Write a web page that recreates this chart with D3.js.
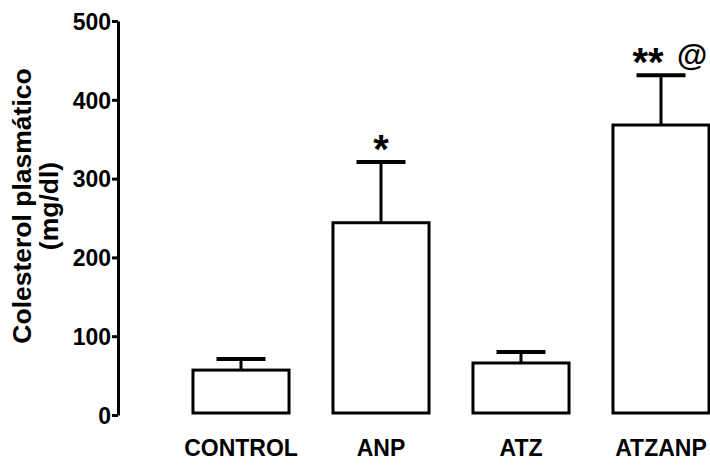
<!DOCTYPE html>
<html>
<head>
<meta charset="utf-8">
<script src="https://cdn.jsdelivr.net/npm/d3@7"></script>
<style>
  html, body { margin: 0; padding: 0; background: #fff; }
  svg { display: block; }
  text { font-family: "Liberation Sans", Arial, Helvetica, sans-serif; font-weight: bold; fill: #000; }
</style>
</head>
<body>
<svg id="chart" width="710" height="469"></svg>
<script>
// Plasma cholesterol by treatment group (mean and SEM, mg/dl)
const categories = ["CONTROL", "ANP", "ATZ", "ATZANP"];
const means = [57, 244, 66, 368];
const sems = [14, 77, 14, 63];
const stars = ["", "*", "", "**"];
const symbols = ["", "", "", "@"];
const yTicks = [0, 100, 200, 300, 400, 500];

const svg = d3.select("#chart");

const y = d3.scaleLinear().domain([0, 500]).range([415, 21]);
const x = d3.scaleBand()
  .domain(categories)
  .range([171, 731])
  .paddingInner(0.314)
  .paddingOuter(0.157);
const cx = c => x(c) + x.bandwidth() / 2;

// Y axis
const yAxis = svg.append("g")
  .attr("transform", "translate(118,0)")
  .call(d3.axisLeft(y).tickValues(yTicks).tickSize(6).tickSizeOuter(0).tickPadding(1));
yAxis.select(".domain").attr("stroke", "#000").attr("stroke-width", 3);
yAxis.selectAll(".tick line").attr("stroke", "#000").attr("stroke-width", 3);
yAxis.selectAll(".tick text")
  .attr("font-family", "Liberation Sans, Arial, sans-serif")
  .attr("font-weight", "bold")
  .attr("font-size", 23)
  .attr("dy", "0.36em")
  .attr("fill", "#000");

// Y axis title
const title = svg.append("g").attr("transform", "translate(0,206) rotate(-90)");
title.append("text")
  .attr("x", 0).attr("y", 31)
  .attr("text-anchor", "middle")
  .attr("font-size", 26.5)
  .text("Colesterol plasmático");
title.append("text")
  .attr("x", 0).attr("y", 58)
  .attr("text-anchor", "middle")
  .attr("font-size", 26.5)
  .text("(mg/dl)");

const groups = categories.map((c, i) => ({
  cat: c, mean: means[i], sem: sems[i], star: stars[i], sym: symbols[i]
}));

// Error bars (upper only)
const capHalf = 24.5;
const eb = svg.append("g");
eb.selectAll("line.stem").data(groups).join("line")
  .attr("class", "stem")
  .attr("x1", d => cx(d.cat))
  .attr("x2", d => cx(d.cat))
  .attr("y1", d => y(d.mean))
  .attr("y2", d => y(d.mean + d.sem))
  .attr("stroke", "#000").attr("stroke-width", 3);
eb.selectAll("line.cap").data(groups).join("line")
  .attr("class", "cap")
  .attr("x1", d => cx(d.cat) - capHalf)
  .attr("x2", d => cx(d.cat) + capHalf)
  .attr("y1", d => y(d.mean + d.sem))
  .attr("y2", d => y(d.mean + d.sem))
  .attr("stroke", "#000").attr("stroke-width", 4);

// Bars
svg.append("g").selectAll("rect").data(groups).join("rect")
  .attr("x", d => x(d.cat))
  .attr("width", x.bandwidth())
  .attr("y", d => y(d.mean))
  .attr("height", d => y(0) - y(d.mean) - 2)
  .attr("fill", "#fff")
  .attr("stroke", "#000")
  .attr("stroke-width", 3);

// Significance marks
svg.append("g").selectAll("text").data(groups.filter(d => d.star)).join("text")
  .attr("x", d => cx(d.cat) - (d.sym ? 13 : 0))
  .attr("y", d => y(d.mean + d.sem) + 1)
  .attr("text-anchor", "middle")
  .attr("font-size", 40)
  .text(d => d.star);
svg.append("g").selectAll("text").data(groups.filter(d => d.sym)).join("text")
  .attr("x", d => cx(d.cat) + 16)
  .attr("y", d => y(d.mean + d.sem) - 9)
  .attr("text-anchor", "start")
  .attr("font-size", 31)
  .text(d => d.sym);

// Category labels
svg.append("g").selectAll("text").data(categories).join("text")
  .attr("x", d => cx(d))
  .attr("y", 456)
  .attr("text-anchor", "middle")
  .attr("font-size", 23)
  .text(d => d);
</script>
</body>
</html>
